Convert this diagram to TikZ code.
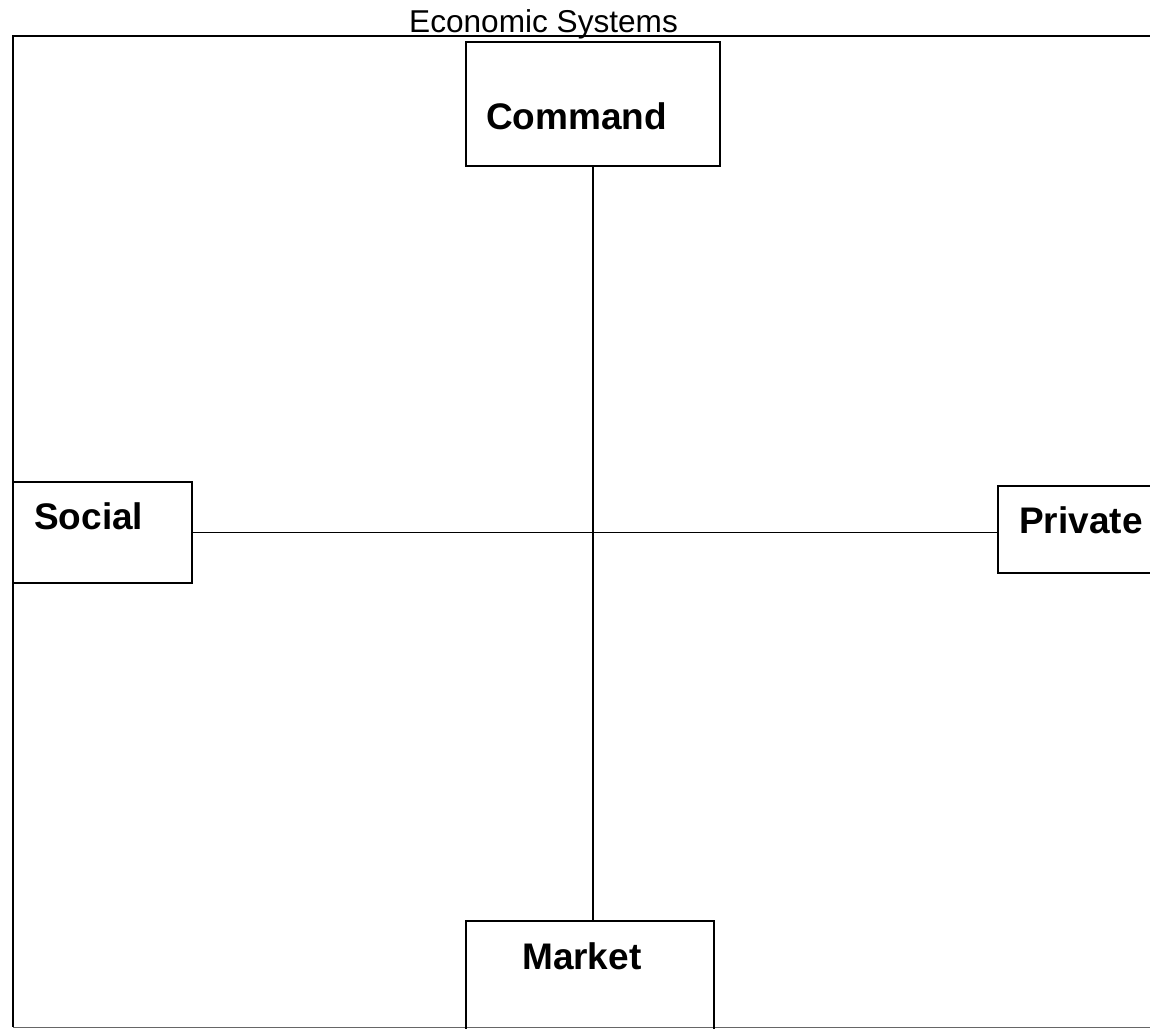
\documentclass[tikz,border=0pt]{standalone}
\usepackage{fontspec}
\setmainfont{Liberation Sans}
\begin{document}
\begin{tikzpicture}[x=1pt,y=-1pt,
  box/.style={draw=black,line width=1.8pt,minimum width=#1,inner sep=0pt},
  lbl/.style={anchor=base west,inner sep=0pt,font=\fontsize{37}{40}\selectfont\bfseries},
  conn/.style={line width=1.5pt}]
\useasboundingbox (0,0) rectangle (1150,1028);
% frame
\draw[line width=2pt] (1152,36) -- (13,36) -- (13,1027);
\draw[line width=1.5pt,black!60] (13,1027.5) -- (1152,1027.5);
% title
\node[anchor=base west,inner sep=0pt,font=\fontsize{31.6}{34}\selectfont] (title) at (409,32) {Economic Systems};
% boxes
\node[box=254pt,minimum height=124pt] (command) at (593,104) {};
\node[box=179pt,minimum height=101pt] (social) at (102.5,532.5) {};
\node[box=160pt,minimum height=87pt] (private) at (1078,529.5) {};
\node[box=248pt,minimum height=110pt] (market) at (590,976) {};
% labels
\node[lbl] (tcommand) at (486,129) {Command};
\node[lbl] (tsocial) at (34,529) {Social};
\node[lbl] (tprivate) at (1019,533) {Private};
\node[lbl] (tmarket) at (522,969) {Market};
% connectors
\draw[conn] (command.south) -- (command.south |- market.north);
\draw[conn] (social.east) -- (social.east -| private.west);
\end{tikzpicture}
\end{document}
